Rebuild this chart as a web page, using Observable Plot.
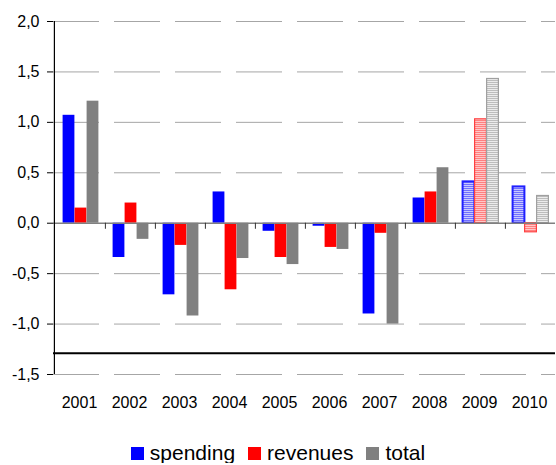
<!DOCTYPE html>
<html>
<head>
<meta charset="utf-8">
<script src="https://cdn.jsdelivr.net/npm/d3@7"></script>
<script src="https://cdn.jsdelivr.net/npm/@observablehq/plot@0.6"></script>
<style>
  body { margin: 0; background: #fff; font-family: "Liberation Sans", Arial, sans-serif; }
  #chart { width: 556px; }
  #legend { display: flex; justify-content: center; align-items: center; gap: 13px; font-size: 21px; color: #000; margin-top: 22px; line-height: 1; }
  #legend .item { display: flex; align-items: center; }
  #legend .sw { width: 13px; height: 13px; margin-right: 6px; margin-top: 2px; }
</style>
</head>
<body>
<div id="chart"></div>
<script>
const years = ["2001","2002","2003","2004","2005","2006","2007","2008","2009","2010"];
const spending = [1.07, -0.34, -0.71, 0.31, -0.08, -0.03, -0.90, 0.25, 0.41, 0.36];
const revenues = [0.15, 0.20, -0.22, -0.66, -0.34, -0.24, -0.10, 0.31, 1.03, -0.09];
const total = [1.21, -0.16, -0.92, -0.35, -0.41, -0.26, -1.00, 0.55, 1.43, 0.27];
const forecastYears = ["2009", "2010"];
const seriesNames = ["spending", "revenues", "total"];
const seriesColors = ["#0000ff", "#ff0000", "#808080"];
const yTicks = [-1.5, -1.0, -0.5, 0.0, 0.5, 1.0, 1.5, 2.0];
const axisCross = [-1.29];

const seriesValues = [spending, revenues, total];
const rows = [];
seriesNames.forEach((s, si) => {
  years.forEach((y, i) => rows.push({year: y, series: s, value: seriesValues[si][i], forecast: forecastYears.includes(y)}));
});

const W = 556, H = 420, mL = 53, mR = 1;
const step = (W - mL - mR) / years.length;
const barW = 12;
const inset = (step - barW) / 2;
const offsets = [-10.5, 1.5, 13.5];
const hatchStroke = ["#2020ff", "#ff4040", "#a0a0a0"];
const hatchWidth = [2, 1.2, 1.2];

const barMarks = [];
seriesNames.forEach((s, si) => {
  barMarks.push(Plot.barY(rows.filter(d => d.series === s && !d.forecast), {
    x: "year", y: "value", fill: seriesColors[si], dx: offsets[si], inset: 0, insetLeft: inset, insetRight: inset
  }));
  barMarks.push(Plot.barY(rows.filter(d => d.series === s && d.forecast), {
    x: "year", y: "value", fill: `url(#hatch-${s})`, stroke: hatchStroke[si], strokeWidth: hatchWidth[si],
    dx: offsets[si], inset: 0, insetLeft: inset, insetRight: inset
  }));
});

const fmt = d => d.toFixed(1).replace(".", ",");

const svg = Plot.plot({
  width: W, height: H,
  marginLeft: mL, marginRight: mR, marginTop: 21, marginBottom: 46,
  style: {fontFamily: "'Liberation Sans', Arial, sans-serif", fontSize: "16px", color: "#000", background: "#fff", overflow: "visible"},
  x: {type: "band", domain: years, padding: 0, axis: null, label: null},
  y: {domain: [-1.5, 2.0], axis: null, label: null},
  marks: [
    Plot.ruleY(yTicks.filter(t => t !== 0), {stroke: "#a6a6a6", strokeWidth: 1, strokeDasharray: "46,15"}),
    Plot.ruleY(axisCross, {stroke: "#000", strokeWidth: 2}),
    ...barMarks,
    Plot.ruleY([0], {stroke: "#808080", strokeWidth: 1.5}),
    Plot.ruleX(years.slice(1), {dx: -step / 2 + 1, y1: 0, y2: -0.06, stroke: "#333", strokeWidth: 1}),
    Plot.ruleX([years[0]], {dx: -step / 2, y1: -1.5, y2: 2.0, stroke: "#000", strokeWidth: 1.2}),
    Plot.axisY({ticks: yTicks, tickFormat: fmt, tickSize: 6, tickPadding: 8, stroke: "#000", fontSize: 16, label: null}),
    Plot.axisX({tickSize: 0, tickPadding: 22, fontSize: 16, label: null})
  ]
});

// hatch patterns for forecast bars
const ns = "http://www.w3.org/2000/svg";
const defs = document.createElementNS(ns, "defs");
const hatchBg = ["#c8c8ff", "#ffc8c8", "#ececec"];
const hatchLine = ["#7070ff", "#ff8080", "#bdbdbd"];
seriesNames.forEach((s, si) => {
  const p = document.createElementNS(ns, "pattern");
  p.setAttribute("id", `hatch-${s}`);
  p.setAttribute("patternUnits", "userSpaceOnUse");
  p.setAttribute("width", 4); p.setAttribute("height", 2);
  const r1 = document.createElementNS(ns, "rect");
  r1.setAttribute("width", 4); r1.setAttribute("height", 2); r1.setAttribute("fill", hatchBg[si]);
  const r2 = document.createElementNS(ns, "rect");
  r2.setAttribute("width", 4); r2.setAttribute("height", 1); r2.setAttribute("fill", hatchLine[si]);
  p.appendChild(r1); p.appendChild(r2);
  defs.appendChild(p);
});
svg.insertBefore(defs, svg.firstChild);
document.getElementById("chart").appendChild(svg);

// legend
const legend = document.createElement("div");
legend.id = "legend";
seriesNames.forEach((s, si) => {
  const item = document.createElement("div");
  item.className = "item";
  const sw = document.createElement("span");
  sw.className = "sw";
  sw.style.background = seriesColors[si];
  const t = document.createElement("span");
  t.textContent = s;
  item.appendChild(sw); item.appendChild(t);
  legend.appendChild(item);
});
document.body.appendChild(legend);
</script>
</body>
</html>
